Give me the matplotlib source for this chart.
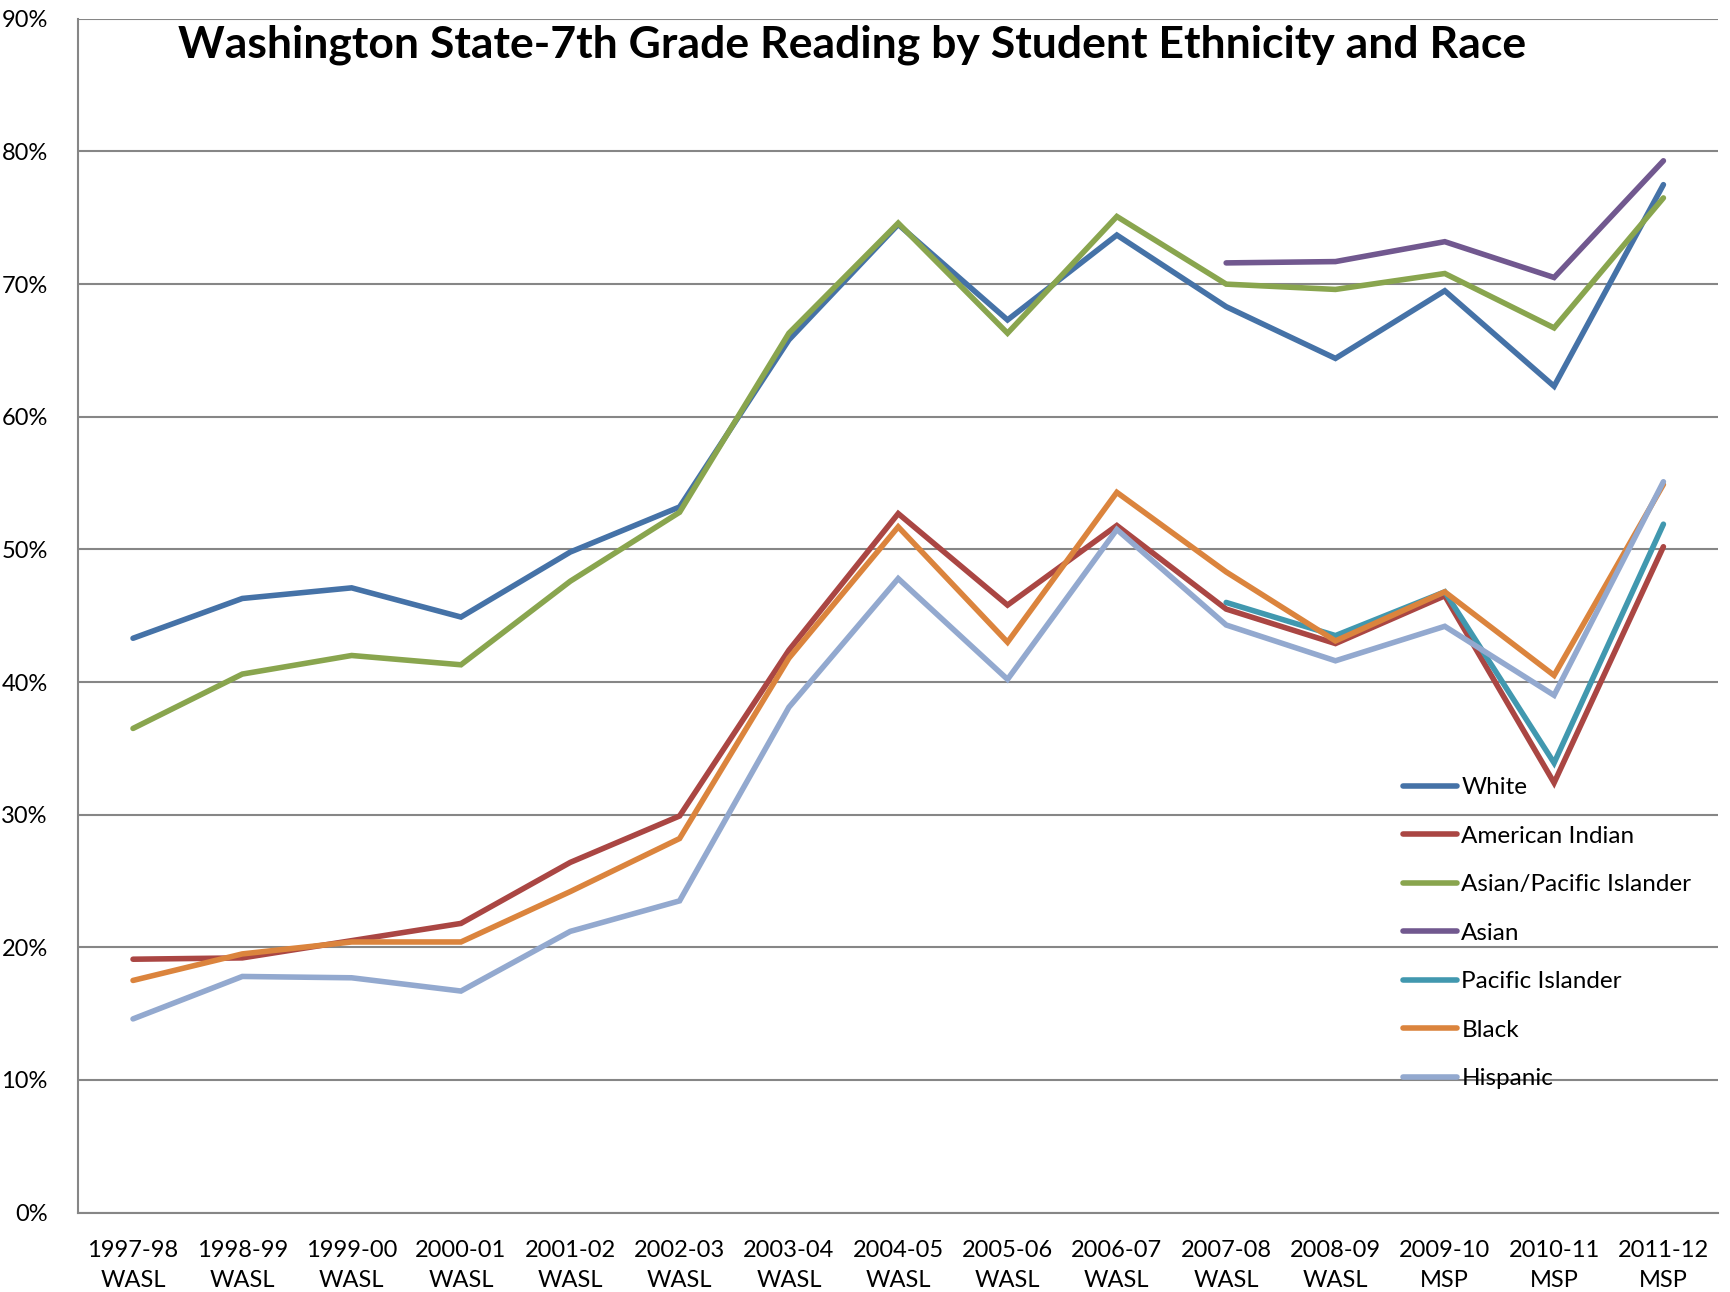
import numpy as np
import matplotlib
matplotlib.use('Agg')
import matplotlib.pyplot as plt
from matplotlib.ticker import FuncFormatter

plt.rcParams['font.family'] = ['Lato', 'DejaVu Sans']

# school years / test
years = ['1997-98', '1998-99', '1999-00', '2000-01', '2001-02', '2002-03', '2003-04',
         '2004-05', '2005-06', '2006-07', '2007-08', '2008-09', '2009-10', '2010-11', '2011-12']
tests = ['WASL'] * 12 + ['MSP'] * 3
nan = np.nan

# percent meeting standard
white = [43.3, 46.3, 47.1, 44.9, 49.8, 53.2, 65.8, 74.5, 67.3, 73.7, 68.3, 64.4, 69.5, 62.3, 77.5]
american_indian = [19.1, 19.2, 20.5, 21.8, 26.4, 29.9, 42.4, 52.7, 45.8, 51.8, 45.5, 42.9, 46.5, 32.4, 50.2]
asian_pi = [36.5, 40.6, 42.0, 41.3, 47.6, 52.8, 66.3, 74.6, 66.3, 75.1, 70.0, 69.6, 70.8, 66.7, 76.5]
asian = [nan] * 10 + [71.6, 71.7, 73.2, 70.5, 79.3]
pacific_islander = [nan] * 10 + [46.0, 43.5, 46.8, 33.9, 51.9]
black = [17.5, 19.5, 20.4, 20.4, 24.2, 28.2, 41.8, 51.7, 43.0, 54.3, 48.3, 43.1, 46.8, 40.5, 54.9]
hispanic = [14.6, 17.8, 17.7, 16.7, 21.2, 23.5, 38.1, 47.8, 40.2, 51.5, 44.3, 41.6, 44.2, 39.0, 55.1]

series = [('White', white, '#4572A7'),
          ('American Indian', american_indian, '#AA4643'),
          ('Asian/Pacific Islander', asian_pi, '#89A54E'),
          ('Asian', asian, '#71588F'),
          ('Pacific Islander', pacific_islander, '#4198AF'),
          ('Black', black, '#DB843D'),
          ('Hispanic', hispanic, '#93A9CF')]

fig = plt.figure(figsize=(17.3, 12.92), dpi=100)
ax = fig.add_axes([0.0453, 0.0615, 0.9478, 0.9239])

x = np.arange(len(years))
for name, vals, col in series:
    ax.plot(x, vals, color=col, lw=4, label=name, solid_capstyle='round', solid_joinstyle='miter')

ax.set_xlim(-0.5, len(years) - 0.5)
ax.set_ylim(0, 90)
ax.set_yticks(np.arange(0, 91, 10))
ax.yaxis.set_major_formatter(FuncFormatter(lambda v, p: '%d%%' % v))
ax.set_xticks(x)
ax.set_xticklabels([y + '\n' + t for y, t in zip(years, tests)], linespacing=1.5)
ax.tick_params(axis='x', length=0, pad=20, labelsize=17)
ax.tick_params(axis='y', length=0, pad=22, labelsize=17)

ax.grid(axis='y', color='#868686', lw=1.5)
ax.set_axisbelow(True)
for s in ['top', 'right']:
    ax.spines[s].set_visible(False)
for s in ['left', 'bottom']:
    ax.spines[s].set_color('#868686')
    ax.spines[s].set_linewidth(1.5)

fig.text(0.4925, 0.9655, 'Washington State-7th Grade Reading by Student Ethnicity and Race',
         ha='center', va='center', fontsize=32, fontweight='bold')

ax.legend(loc='upper left', bbox_to_anchor=(0.811, 0.3985), bbox_transform=fig.transFigure,
          frameon=False, borderpad=0, borderaxespad=0, handlelength=2.2, handletextpad=0.2,
          labelspacing=1.13, fontsize=17.5)

fig.savefig('out.png', dpi=100)
